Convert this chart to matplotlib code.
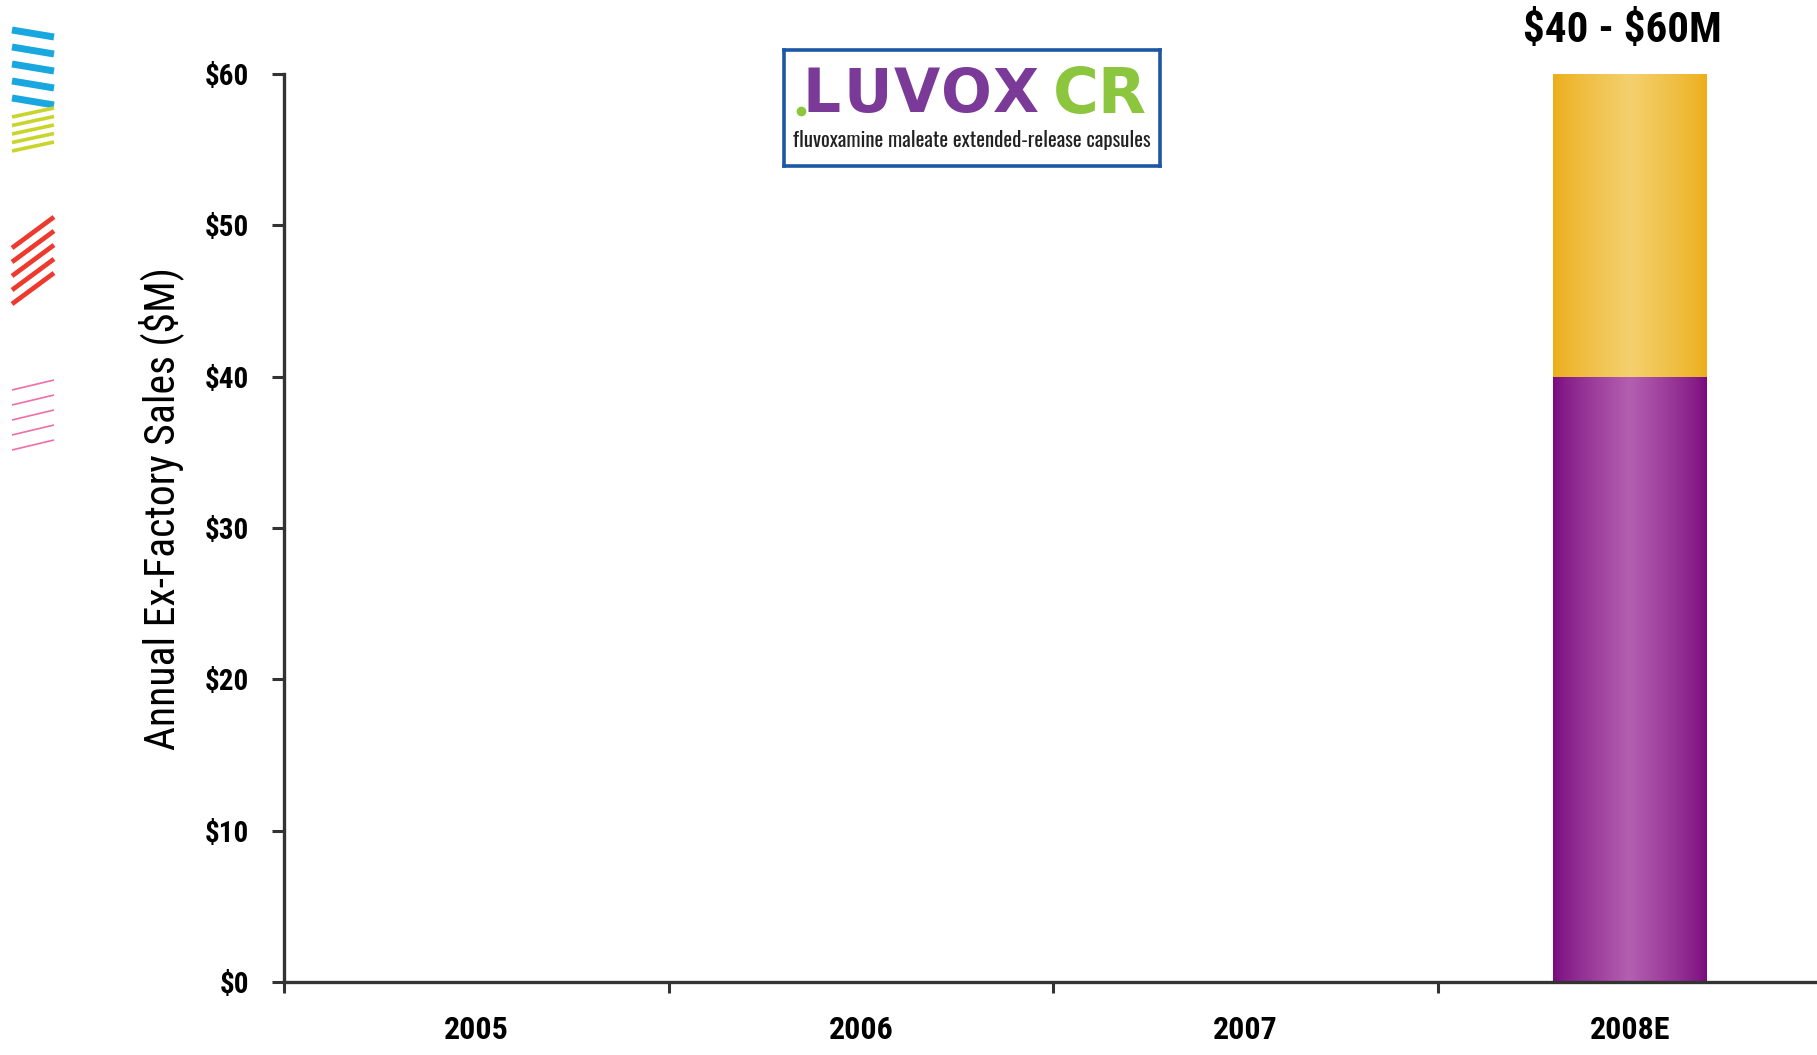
import numpy as np
import matplotlib.pyplot as plt
from matplotlib.colors import LinearSegmentedColormap
from matplotlib.lines import Line2D

plt.rcParams['font.family'] = ['Roboto Condensed', 'DejaVu Sans']

# data
years = ['2005', '2006', '2007', '2008E']
low_est = [0, 0, 0, 40]        # purple segment
range_est = [0, 0, 0, 20]      # gold segment on top
yticks = [0, 10, 20, 30, 40, 50, 60]
range_label = r'\$40 - \$60M'

W, H = 1817, 1055
fig = plt.figure(figsize=(W / 100, H / 100), dpi=100)
ax = fig.add_axes([284 / W, 73 / H, 1538 / W, 908 / H])

x = np.arange(len(years))
bw = 0.40


def grad_bar(ax, xs, bottoms, heights, edge, center):
    cmap = LinearSegmentedColormap.from_list('g', [edge, center])
    t = np.linspace(0, 1, 256)
    prof = (1 - np.abs(2 * t - 1)) ** 0.8
    img = prof[np.newaxis, :]
    bars = ax.bar(xs, heights, bw, bottom=bottoms, color='none', linewidth=0)
    for b, hgt in zip(bars, heights):
        if hgt <= 0:
            continue
        x0, y0 = b.get_x(), b.get_y()
        im = ax.imshow(img, cmap=cmap, aspect='auto', vmin=0, vmax=1,
                       extent=[x0, x0 + b.get_width(), y0, y0 + hgt], zorder=2)
        im.set_clip_path(b)


grad_bar(ax, x, [0] * len(x), low_est, '#7a0a7e', '#b35fb0')
grad_bar(ax, x, low_est, range_est, '#ecae18', '#f4d06e')

ax.set_xlim(-0.5, 3.5)
ax.set_ylim(0, 60)
ax.set_yticks(yticks)
ax.set_yticklabels([f'\\${v}' for v in yticks], fontsize=21, fontweight='bold')
ax.set_xticks(x)
ax.set_xticklabels(years, fontsize=23, fontweight='bold')
ax.set_xticks(np.arange(-0.5, 3.5, 1), minor=True)
ax.tick_params(axis='x', which='major', length=0, pad=24)
ax.tick_params(axis='x', which='minor', length=8, width=2.2, color='#333333', direction='out')
ax.tick_params(axis='y', length=9, width=2.2, color='#333333', pad=16)
for s in ['top', 'right']:
    ax.spines[s].set_visible(False)
for s in ['left', 'bottom']:
    ax.spines[s].set_color('#333333')
    ax.spines[s].set_linewidth(2.4)

fig.text(161 / W, 1 - 509 / H, 'Annual Ex-Factory Sales (\\$M)', rotation=90,
         fontsize=30, ha='center', va='center')

# label above last bar
fig.text(1622 / W, 1 - 31 / H, range_label, ha='center', va='center',
         fontsize=31, fontweight='bold')

# logo box
lg = fig.add_axes([784 / W, (H - 166) / H, 376 / W, 116 / H])
lg.set_xticks([])
lg.set_yticks([])
for s in lg.spines.values():
    s.set_color('#1c57a5')
    s.set_linewidth(2.6)
for ch, cx in zip('LUVOX', [0.100, 0.222, 0.352, 0.484, 0.618]):
    lg.text(cx, 0.605, ch, color='#7b3a97', fontsize=43, fontweight='bold',
            family='DejaVu Sans', ha='center', va='center', transform=lg.transAxes)
lg.text(0.84, 0.605, 'CR', color='#8cc63f', fontsize=45, fontweight='bold',
        family='DejaVu Sans', ha='center', va='center', transform=lg.transAxes)
lg.plot([0.045], [0.47], 'o', color='#8cc63f', ms=6, transform=lg.transAxes)
lg.text(0.5, 0.22, 'fluvoxamine maleate extended-release capsules', color='#222222',
        fontsize=15, family=['Oswald', 'DejaVu Sans'], ha='center', va='center',
        transform=lg.transAxes)

# decorative stripes on the left edge
def stripes(x0, x1, y0, y1, dy, n, color, lw):
    for i in range(n):
        fig.add_artist(Line2D([x0 / W, x1 / W],
                              [1 - (y0 + i * dy) / H, 1 - (y1 + i * dy) / H],
                              color=color, lw=lw, solid_capstyle='butt'))

stripes(12, 54, 30, 37, 17, 5, '#19a7e0', 5)
stripes(12, 54, 117, 108, 8.5, 5, '#c9d52b', 2.6)
stripes(12, 54, 248, 217, 14, 5, '#ee3a2e', 3.4)
stripes(12, 54, 390, 380, 15, 5, '#f06ea9', 1.2)

fig.savefig('out.png', dpi=100)
